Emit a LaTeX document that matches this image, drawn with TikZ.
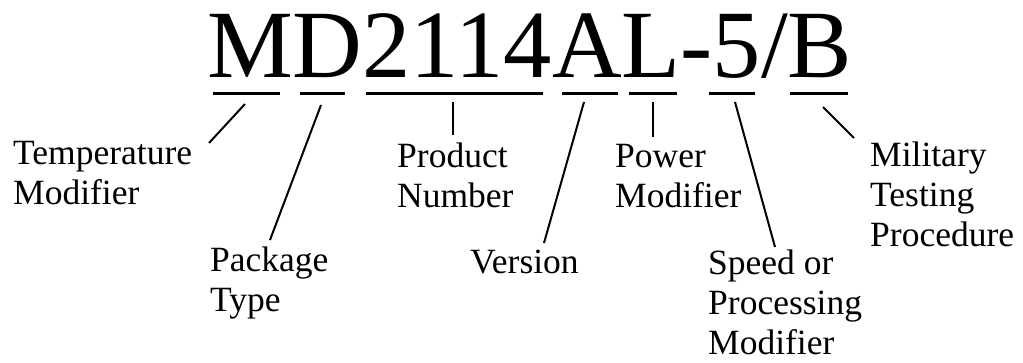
\documentclass[tikz,border=0pt]{standalone}
\usepackage{fontspec}
\setmainfont{Liberation Serif}
\begin{document}
\begin{tikzpicture}[x=1pt,y=1pt,
  lbl/.style={font=\fontsize{35.5}{40}\selectfont, align=left, inner sep=0pt, anchor=base west},
  uline/.style={line width=3pt},
  conn/.style={line width=2pt}]
\useasboundingbox (0,0) rectangle (1023,363);
\node[inner sep=0pt, anchor=base west, font=\fontsize{96.5}{100}\selectfont] (code) at (207,285) {MD2114AL-5/B};
% underlines
\draw[uline] (213,269) -- (280,269);
\draw[uline] (300,269) -- (345,269);
\draw[uline] (366,269) -- (543,269);
\draw[uline] (562,269) -- (618,269);
\draw[uline] (629,269) -- (677,269);
\draw[uline] (709,269) -- (755,269);
\draw[uline] (790,269) -- (848,269);
% labels (anchor = baseline of last line)
\node[lbl] (temp) at (13,158) {Temperature\\Modifier};
\node[lbl] (pack) at (210,51) {Package\\Type};
\node[lbl] (prod) at (397,155) {Product\\Number};
\node[lbl] (vers) at (470,89) {Version};
\node[lbl] (powr) at (615,155) {Power\\Modifier};
\node[lbl] (spd) at (708,8) {Speed or\\Processing\\Modifier};
\node[lbl] (mil) at (870,116) {Military\\Testing\\Procedure};
% connector ends
\coordinate (t1) at (245,259); \coordinate (t2) at (209,220);
\coordinate (p1) at (321,258); \coordinate (p2) at (270,123);
\coordinate (n1) at (453,261); \coordinate (n2) at (453,228);
\coordinate (v1) at (584,261); \coordinate (v2) at (544,120);
\coordinate (w1) at (653,261); \coordinate (w2) at (653,226);
\coordinate (s1) at (735,261); \coordinate (s2) at (775,116);
\coordinate (m1) at (823,256); \coordinate (m2) at (854,225);
\draw[conn] (t1) -- (t2);
\draw[conn] (p1) -- (p2);
\draw[conn] (n1) -- (n2);
\draw[conn] (v1) -- (v2);
\draw[conn] (w1) -- (w2);
\draw[conn] (s1) -- (s2);
\draw[conn] (m1) -- (m2);
\end{tikzpicture}
\end{document}
